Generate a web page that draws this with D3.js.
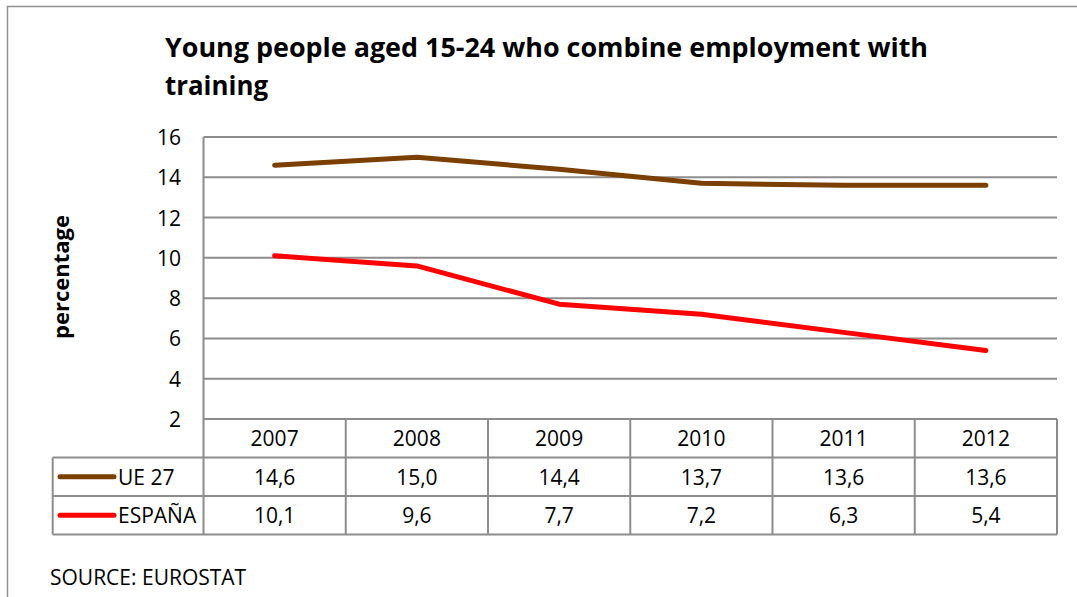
<!DOCTYPE html>
<html>
<head>
<meta charset="utf-8">
<script src="https://cdn.jsdelivr.net/npm/d3@7/dist/d3.min.js"></script>
<style>
  html, body { margin: 0; padding: 0; background: #fff; }
  svg { display: block; }
  text { font-family: "Open Sans", "Noto Sans", sans-serif; fill: #000; }
</style>
</head>
<body>
<svg id="chart" width="1077" height="597"></svg>
<script>
// Data (Eurostat): share of young people 15-24 combining work and training
const years = ["2007", "2008", "2009", "2010", "2011", "2012"];
const ue27 = [14.6, 15.0, 14.4, 13.7, 13.6, 13.6];
const espana = [10.1, 9.6, 7.7, 7.2, 6.3, 5.4];
const seriesNames = ["UE 27", "ESPAÑA"];
const seriesColors = ["#7b3f00", "#ff0000"];
const yTicks = [2, 4, 6, 8, 10, 12, 14, 16];

const series = [
  { name: seriesNames[0], values: ue27, color: seriesColors[0] },
  { name: seriesNames[1], values: espana, color: seriesColors[1] }
];

const svg = d3.select("#chart");
const W = 1077, H = 597;

// Layout
const plot = { left: 203.5, right: 1057, top: 137, bottom: 419 };
const rowH = 38.5;
const tableLeft = 52.7;
const gridColor = "#8c8c8c";
const fs = 21;

const x = d3.scaleBand().domain(years).range([plot.left, plot.right]);
const y = d3.scaleLinear().domain([2, 16]).range([plot.bottom, plot.top]);

// Outer frame (top and left edges visible)
svg.append("path")
  .attr("d", `M7.5,${H} L7.5,6.5 L${W},6.5`)
  .attr("fill", "none").attr("stroke", "#8f8f8f").attr("stroke-width", 1.5);

// Title
const title = svg.append("text")
  .attr("x", 165).attr("y", 57)
  .attr("font-weight", "bold").attr("font-size", 27);
title.append("tspan").attr("x", 165).attr("y", 57)
  .attr("textLength", 763).attr("lengthAdjust", "spacingAndGlyphs")
  .text("Young people aged 15-24 who combine employment with");
title.append("tspan").attr("x", 165).attr("y", 95)
  .attr("textLength", 103).attr("lengthAdjust", "spacingAndGlyphs")
  .text("training");

// Horizontal gridlines
svg.append("g").selectAll("line").data(yTicks.filter(d => d > 2)).join("line")
  .attr("x1", plot.left).attr("x2", plot.right)
  .attr("y1", d => y(d)).attr("y2", d => y(d))
  .attr("stroke", gridColor).attr("stroke-width", 2);

// Y tick labels
svg.append("g").selectAll("text").data(yTicks).join("text")
  .attr("x", 181).attr("y", d => y(d))
  .attr("text-anchor", "end").attr("dominant-baseline", "central")
  .attr("font-size", fs)
  .text(d => d);

// Y axis title
svg.append("text")
  .attr("transform", "translate(69,277) rotate(-90)")
  .attr("text-anchor", "middle")
  .attr("font-weight", "bold").attr("font-size", 22)
  .text("percentage");

// Data table grid
const tableTop = plot.bottom;
const rowsY = [tableTop, tableTop + rowH, tableTop + 2 * rowH, tableTop + 3 * rowH];
const tg = svg.append("g").attr("stroke", gridColor).attr("stroke-width", 2);
// top of year row
tg.append("line").attr("x1", plot.left).attr("x2", plot.right)
  .attr("y1", rowsY[0]).attr("y2", rowsY[0]);
// series row lines
[rowsY[1], rowsY[2], rowsY[3]].forEach(yy => {
  tg.append("line").attr("x1", tableLeft).attr("x2", plot.right)
    .attr("y1", yy).attr("y2", yy);
});
// left edge of legend column
tg.append("line").attr("x1", tableLeft).attr("x2", tableLeft)
  .attr("y1", rowsY[1]).attr("y2", rowsY[3]);
// value axis line / first column boundary
tg.append("line").attr("x1", plot.left).attr("x2", plot.left)
  .attr("y1", plot.top).attr("y2", rowsY[3]);
// column boundaries
years.forEach(yr => {
  const xx = x(yr) + x.bandwidth();
  tg.append("line").attr("x1", xx).attr("x2", xx)
    .attr("y1", rowsY[0]).attr("y2", rowsY[3]);
});

// Year labels
svg.append("g").selectAll("text").data(years).join("text")
  .attr("x", d => x(d) + x.bandwidth() / 2)
  .attr("y", rowsY[0] + rowH / 2)
  .attr("text-anchor", "middle").attr("dominant-baseline", "central")
  .attr("font-size", fs)
  .text(d => d);

// Series rows: legend key + values
const fmt = v => v.toFixed(1).replace(".", ",");
series.forEach((s, i) => {
  const cy = rowsY[i + 1] + rowH / 2;
  svg.append("line")
    .attr("x1", 60).attr("x2", 114).attr("y1", cy).attr("y2", cy)
    .attr("stroke", s.color).attr("stroke-width", 5).attr("stroke-linecap", "round");
  svg.append("text")
    .attr("x", 118).attr("y", cy)
    .attr("dominant-baseline", "central").attr("font-size", fs)
    .text(s.name);
  svg.append("g").selectAll("text").data(s.values).join("text")
    .attr("x", (d, j) => x(years[j]) + x.bandwidth() / 2)
    .attr("y", cy)
    .attr("text-anchor", "middle").attr("dominant-baseline", "central")
    .attr("font-size", fs)
    .text(d => fmt(d));
});

// Lines
const line = d3.line()
  .x((d, j) => x(years[j]) + x.bandwidth() / 2)
  .y(d => y(d));
svg.append("g").selectAll("path").data(series).join("path")
  .attr("d", d => line(d.values))
  .attr("fill", "none")
  .attr("stroke", d => d.color)
  .attr("stroke-width", 5)
  .attr("stroke-linecap", "round")
  .attr("stroke-linejoin", "round");

// Source note
svg.append("text")
  .attr("x", 50).attr("y", 585)
  .attr("font-size", 21)
  .text("SOURCE: EUROSTAT");
</script>
</body>
</html>
